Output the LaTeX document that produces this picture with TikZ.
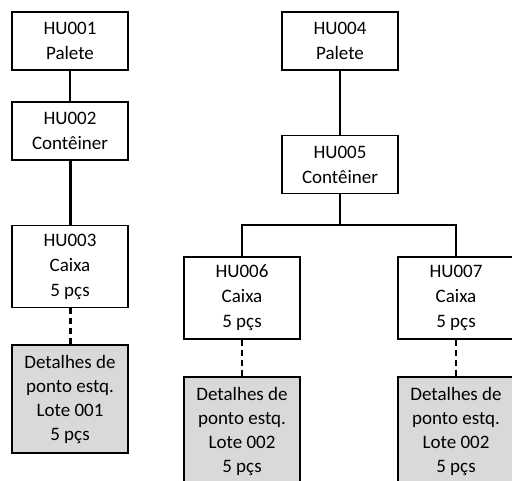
\documentclass[tikz,border=0pt]{standalone}
\usepackage{fontspec}
\setmainfont{Carlito}
\usepackage{tikz}

\begin{document}
\begin{tikzpicture}[x=1pt, y=-1pt,
  hubox/.style={draw, fill=white, line width=1.1pt, minimum width=116pt, minimum height=58pt, align=center, inner sep=2pt, font=\fontsize{19}{25}\selectfont},
  lotbox/.style={hubox, fill=gray!30, minimum height=108pt, font=\fontsize{19}{24}\selectfont},
  wire/.style={line width=1.1pt},
  heavywire/.style={line width=3pt},
  dashwire/.style={line width=1.1pt, dash pattern=on 6pt off 4pt},
  heavydash/.style={line width=3pt, dash pattern=on 6pt off 4pt}
]
\useasboundingbox (0,0) rectangle (512,481);
\clip (0,0) rectangle (512,481);

% Left tree
\node[hubox] (hu1) at (70,41) {HU001\\Palete};
\node[hubox] (hu2) at (70,131) {HU002\\Contêiner};
\node[hubox, minimum height=82pt] (hu3) at (70,266.5) {HU003\\Caixa\\5 pçs};
\node[lotbox] (lt1) at (70,399) {Detalhes de\\ponto estq.\\Lote 001\\5 pçs};

% Right tree
\node[hubox] (hu4) at (340,41) {HU004\\Palete};
\node[hubox] (hu5) at (340,164.5) {HU005\\Contêiner};
\node[hubox, minimum height=82pt] (hu6) at (242,298) {HU006\\Caixa\\5 pçs};
\node[hubox, minimum height=82pt] (hu7) at (456,298) {HU007\\Caixa\\5 pçs};
\node[lotbox] (lt2) at (242,431) {Detalhes de\\ponto estq.\\Lote 002\\5 pçs};
\node[lotbox] (lt3) at (456,431) {Detalhes de\\ponto estq.\\Lote 002\\5 pçs};
\coordinate (fork) at (340,225);

% Links
\draw[wire] (hu1) -- (hu2);
\draw[heavywire] (hu2) -- (hu3);
\draw[heavydash] (hu3) -- (lt1);
\draw[wire] (hu4) -- (hu5);
\draw[wire] (hu5) -- (fork);
\draw[wire] (fork) -| (hu6);
\draw[wire] (fork) -| (hu7);
\draw[dashwire] (hu6) -- (lt2);
\draw[dashwire] (hu7) -- (lt3);

\end{tikzpicture}
\end{document}
